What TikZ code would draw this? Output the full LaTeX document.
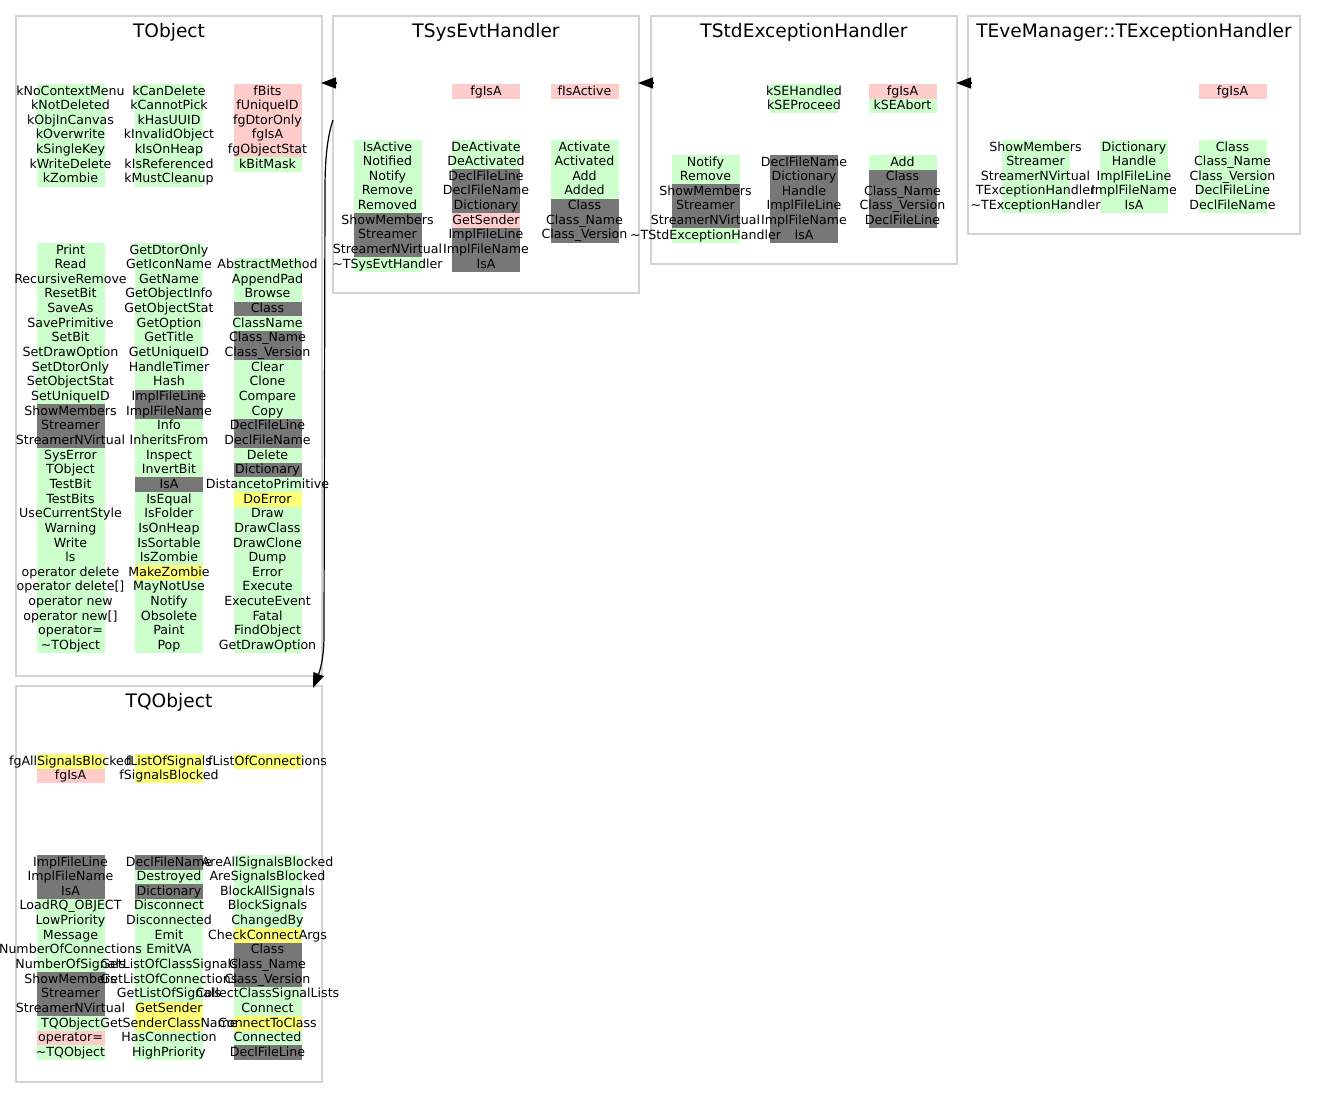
\documentclass[tikz,border=0pt]{standalone}
\usepackage{fontspec}
\setmainfont{DejaVu Sans}
\usetikzlibrary{arrows.meta}
\pgfdeclarelayer{bg}
\pgfsetlayers{bg,main}
\definecolor{cg}{HTML}{CCFFCC}
\definecolor{cp}{HTML}{FFCCCC}
\definecolor{cy}{HTML}{FFFF77}
\definecolor{cd}{HTML}{777777}
\definecolor{bord}{HTML}{D3D3D3}
\newcommand\rowh{14.65}
\newcommand\cellcol[4]{%
  \foreach \c/\t [count=\i from 0] in {#4} {%
    \begin{pgfonlayer}{bg}
      \fill[\c] ({#2-34},{#3+\i*\rowh}) rectangle ({#2+34},{#3+(\i+1)*\rowh});
    \end{pgfonlayer}
    \node[celltext] (#1-\i) at ({#2},{#3+\i*\rowh+11}) {\t};
  }%
}
\newcommand\tld{\textasciitilde}
\tikzset{
  classbox/.style={draw=bord, line width=1.6pt, rectangle, inner sep=0, outer sep=0},
  celltext/.style={anchor=base, inner sep=0, font=\fontsize{12.6}{14}\selectfont},
  classtitle/.style={anchor=base, inner sep=0, font=\fontsize{18.6}{20}\selectfont},
  inh/.style={line width=1.2pt, -{Triangle[length=15pt,width=11pt]}}
}
\begin{document}
\begin{tikzpicture}[x=1pt,y=-1pt]
\useasboundingbox (0,0) rectangle (1317,1109);
% class boxes
\node[classbox, minimum width=306pt, minimum height=660pt] (tobj) at (169,346) {};
\node[classbox, minimum width=306pt, minimum height=277pt] (sys) at (486,154.5) {};
\node[classbox, minimum width=306pt, minimum height=248pt] (std) at (804,140) {};
\node[classbox, minimum width=332pt, minimum height=218pt] (eve) at (1134,125) {};
\node[classbox, minimum width=306pt, minimum height=396pt] (tq) at (169,884) {};
% titles
\node[classtitle] (tobj-t) at (169,37) {TObject};
\node[classtitle] (sys-t) at (486,37) {TSysEvtHandler};
\node[classtitle] (std-t) at (804,37) {TStdExceptionHandler};
\node[classtitle] (eve-t) at (1134,37) {TEveManager::TExceptionHandler};
\node[classtitle] (tq-t) at (169,707) {TQObject};
% TObject
\cellcol{tobj-da}{70.5}{84}{cg/kNoContextMenu,cg/kNotDeleted,cg/kObjInCanvas,cg/kOverwrite,cg/kSingleKey,cg/kWriteDelete,cg/kZombie}
\cellcol{tobj-db}{169}{84}{cg/kCanDelete,cg/kCannotPick,cg/kHasUUID,cg/kInvalidObject,cg/kIsOnHeap,cg/kIsReferenced,cg/kMustCleanup}
\cellcol{tobj-dc}{267.5}{84}{cp/fBits,cp/fUniqueID,cp/fgDtorOnly,cp/fgIsA,cp/fgObjectStat,cg/kBitMask}
\cellcol{tobj-ma}{70.5}{243}{cg/Print,cg/Read,cg/RecursiveRemove,cg/ResetBit,cg/SaveAs,cg/SavePrimitive,cg/SetBit,cg/SetDrawOption,cg/SetDtorOnly,cg/SetObjectStat,cg/SetUniqueID,cd/ShowMembers,cd/Streamer,cd/StreamerNVirtual,cg/SysError,cg/TObject,cg/TestBit,cg/TestBits,cg/UseCurrentStyle,cg/Warning,cg/Write,cg/ls,cg/operator delete,cg/operator delete[],cg/operator new,cg/operator new[],cg/operator=,cg/\tld TObject}
\cellcol{tobj-mb}{169}{243}{cg/GetDtorOnly,cg/GetIconName,cg/GetName,cg/GetObjectInfo,cg/GetObjectStat,cg/GetOption,cg/GetTitle,cg/GetUniqueID,cg/HandleTimer,cg/Hash,cd/ImplFileLine,cd/ImplFileName,cg/Info,cg/InheritsFrom,cg/Inspect,cg/InvertBit,cd/IsA,cg/IsEqual,cg/IsFolder,cg/IsOnHeap,cg/IsSortable,cg/IsZombie,cy/MakeZombie,cg/MayNotUse,cg/Notify,cg/Obsolete,cg/Paint,cg/Pop}
\cellcol{tobj-mc}{267.5}{257.65}{cg/AbstractMethod,cg/AppendPad,cg/Browse,cd/Class,cg/ClassName,cd/Class\_Name,cd/Class\_Version,cg/Clear,cg/Clone,cg/Compare,cg/Copy,cd/DeclFileLine,cd/DeclFileName,cg/Delete,cd/Dictionary,cg/DistancetoPrimitive,cy/DoError,cg/Draw,cg/DrawClass,cg/DrawClone,cg/Dump,cg/Error,cg/Execute,cg/ExecuteEvent,cg/Fatal,cg/FindObject,cg/GetDrawOption}
% TSysEvtHandler
\cellcol{sys-db}{486}{84}{cp/fgIsA}
\cellcol{sys-dc}{584.5}{84}{cp/fIsActive}
\cellcol{sys-ma}{387.5}{140}{cg/IsActive,cg/Notified,cg/Notify,cg/Remove,cg/Removed,cd/ShowMembers,cd/Streamer,cd/StreamerNVirtual,cg/\tld TSysEvtHandler}
\cellcol{sys-mb}{486}{140}{cg/DeActivate,cg/DeActivated,cd/DeclFileLine,cd/DeclFileName,cd/Dictionary,cp/GetSender,cd/ImplFileLine,cd/ImplFileName,cd/IsA}
\cellcol{sys-mc}{584.5}{140}{cg/Activate,cg/Activated,cg/Add,cg/Added,cd/Class,cd/Class\_Name,cd/Class\_Version}
% TStdExceptionHandler
\cellcol{std-db}{804}{84}{cg/kSEHandled,cg/kSEProceed}
\cellcol{std-dc}{902.5}{84}{cp/fgIsA,cg/kSEAbort}
\cellcol{std-ma}{705.5}{155}{cg/Notify,cg/Remove,cd/ShowMembers,cd/Streamer,cd/StreamerNVirtual,cg/\tld TStdExceptionHandler}
\cellcol{std-mb}{804}{155}{cd/DeclFileName,cd/Dictionary,cd/Handle,cd/ImplFileLine,cd/ImplFileName,cd/IsA}
\cellcol{std-mc}{902.5}{155}{cg/Add,cd/Class,cd/Class\_Name,cd/Class\_Version,cd/DeclFileLine}
% TEveManager::TExceptionHandler
\cellcol{eve-dc}{1232.5}{84}{cp/fgIsA}
\cellcol{eve-ma}{1035.5}{140}{cg/ShowMembers,cg/Streamer,cg/StreamerNVirtual,cg/TExceptionHandler,cg/\tld TExceptionHandler}
\cellcol{eve-mb}{1134}{140}{cg/Dictionary,cg/Handle,cg/ImplFileLine,cg/ImplFileName,cg/IsA}
\cellcol{eve-mc}{1232.5}{140}{cg/Class,cg/Class\_Name,cg/Class\_Version,cg/DeclFileLine,cg/DeclFileName}
% TQObject
\cellcol{tq-da}{70.5}{754}{cy/fgAllSignalsBlocked,cp/fgIsA}
\cellcol{tq-db}{169}{754}{cy/fListOfSignals,cy/fSignalsBlocked}
\cellcol{tq-dc}{267.5}{754}{cy/fListOfConnections}
\cellcol{tq-ma}{70.5}{855}{cd/ImplFileLine,cd/ImplFileName,cd/IsA,cg/LoadRQ\_OBJECT,cg/LowPriority,cg/Message,cg/NumberOfConnections,cg/NumberOfSignals,cd/ShowMembers,cd/Streamer,cd/StreamerNVirtual,cg/TQObject,cp/operator=,cg/\tld TQObject}
\cellcol{tq-mb}{169}{855}{cd/DeclFileName,cg/Destroyed,cd/Dictionary,cg/Disconnect,cg/Disconnected,cg/Emit,cg/EmitVA,cg/GetListOfClassSignals,cg/GetListOfConnections,cg/GetListOfSignals,cy/GetSender,cy/GetSenderClassName,cg/HasConnection,cg/HighPriority}
\cellcol{tq-mc}{267.5}{855}{cg/AreAllSignalsBlocked,cg/AreSignalsBlocked,cg/BlockAllSignals,cg/BlockSignals,cg/ChangedBy,cy/CheckConnectArgs,cd/Class,cd/Class\_Name,cd/Class\_Version,cg/CollectClassSignalLists,cg/Connect,cy/ConnectToClass,cg/Connected,cd/DeclFileLine}
% inheritance connectors
\draw[inh] ([xshift=3pt,yshift=-67pt]sys.north west) -- ([xshift=-1pt,yshift=-67pt]tobj.north east);
\draw[inh] ([xshift=3pt,yshift=-67pt]std.north west) -- ([xshift=-1pt,yshift=-67pt]sys.north east);
\draw[inh] ([xshift=3pt,yshift=-67pt]eve.north west) -- ([xshift=-1pt,yshift=-67pt]std.north east);
\coordinate (q1) at (325,190);
\coordinate (q2) at (324,635);
\draw[inh] ([yshift=-104pt]sys.north west) .. controls (328,135) and (325,155) .. (q1) -- (q2) .. controls (324,655) and (321,668) .. ([xshift=-9pt,yshift=-2pt]tq.north east);
\end{tikzpicture}
\end{document}
